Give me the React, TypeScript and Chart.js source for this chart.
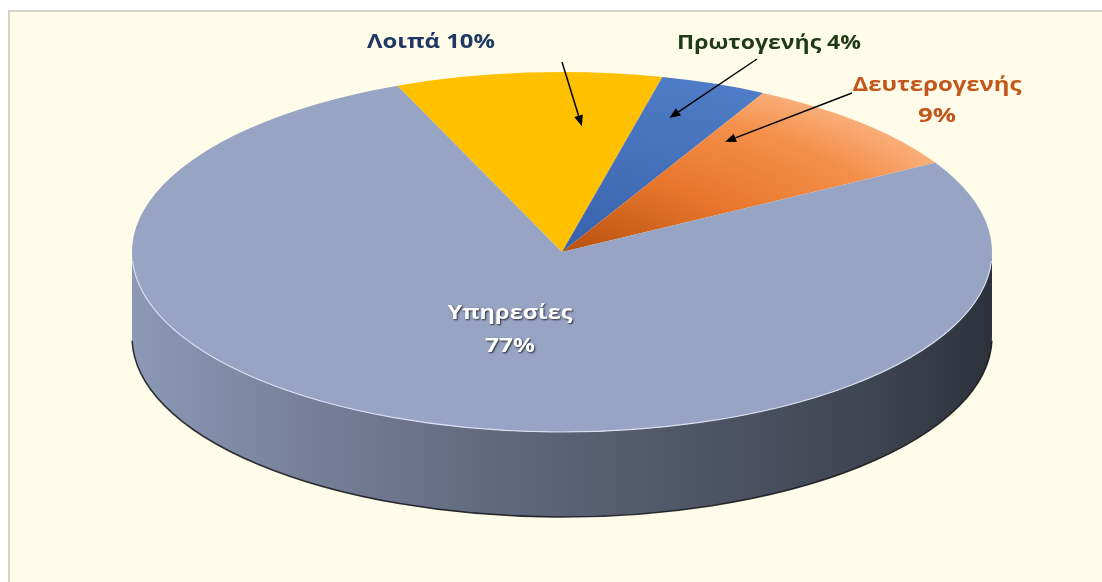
import React, { useEffect, useRef } from 'react';
import { Chart, registerables } from 'chart.js';

Chart.register(...registerables);

// ---- data ----
const categories = ['Λοιπά', 'Πρωτογενής', 'Δευτερογενής', 'Υπηρεσίες'];
const shares = [10, 4, 9, 77];
const sliceColors = ['#FFC000', '#4672BE', '#ED7D31', '#97A4C4'];
const labelColors = ['#1F3864', '#1F3A16', '#C3561A', '#FFFFFF'];

// ---- layout ----
const W = 1102;
const H = 582;
const PIE_CX = 562;
const PIE_CY = 252;
const RX = 430;
const RY = 180;
const DEPTH = 85;
const HALF = 200;
const ROTATION = -22.5;

type Arrow = { from: [number, number]; t: number; f: number };
type LabelSpec = {
  idx: number;
  lines: string[];
  cx: number;
  baselines: number[];
  widths: number[];
  size: number;
  shadow?: boolean;
  arrow?: Arrow;
};

const labelSpecs: LabelSpec[] = [
  { idx: 0, lines: [`${categories[0]} ${shares[0]}%`], cx: 431, baselines: [48], widths: [128], size: 19, arrow: { from: [562, 62], t: 0.73, f: 0.7 } },
  { idx: 1, lines: [`${categories[1]} ${shares[1]}%`], cx: 769, baselines: [49], widths: [184], size: 20, arrow: { from: [757, 59], t: 0.35, f: 0.785 } },
  { idx: 2, lines: [categories[2], `${shares[2]}%`], cx: 937, baselines: [91, 122], widths: [169, 38], size: 19, arrow: { from: [852, 93], t: 0.12, f: 0.72 } },
  { idx: 3, lines: [categories[3], `${shares[3]}%`], cx: 510, baselines: [319, 352], widths: [125, 50], size: 19, shadow: true },
];

function hexToRgb(hex: string): [number, number, number] {
  const h = hex.replace('#', '');
  return [parseInt(h.slice(0, 2), 16), parseInt(h.slice(2, 4), 16), parseInt(h.slice(4, 6), 16)];
}
function shade(hex: string, f: number): string {
  const [r, g, b] = hexToRgb(hex);
  return `rgb(${Math.round(r * f)},${Math.round(g * f)},${Math.round(b * f)})`;
}

const sideStops: [number, number][] = [
  [0, 0.93],
  [0.2, 0.78],
  [0.45, 0.62],
  [0.7, 0.5],
  [0.88, 0.4],
  [1, 0.3],
];

function sliceFill(c: any) {
  const i = c.dataIndex;
  const chart = c.chart;
  const area = chart.chartArea;
  if (i === undefined) return sliceColors[0];
  if (!area || i === 0 || i === 3) return sliceColors[i];
  const cx = (area.left + area.right) / 2;
  const cy = (area.top + area.bottom) / 2;
  const r = Math.min(area.right - area.left, area.bottom - area.top) / 2;
  const g = chart.ctx.createRadialGradient(cx, cy, 0, cx, cy, r);
  if (i === 2) {
    g.addColorStop(0, '#B8500E');
    g.addColorStop(0.45, '#E8772C');
    g.addColorStop(0.8, '#F48F4A');
    g.addColorStop(1, '#F9AE78');
  } else {
    g.addColorStop(0, '#3A62AC');
    g.addColorStop(1, '#4F7CC6');
  }
  return g;
}

const pie3d = {
  id: 'pie3d',
  beforeDatasetsDraw(chart: any) {
    const ctx = chart.ctx;
    const meta = chart.getDatasetMeta(0);
    if (!meta.data.length) return;
    const el0 = meta.data[0];
    const x = el0.x;
    const y = el0.y;
    const R = el0.outerRadius;
    const sx = RX / R;
    const sy = RY / R;
    const rx = R * sx;
    const ry = R * sy;
    // sides
    meta.data.forEach((el: any, i: number) => {
      for (let k = -1; k <= 1; k++) {
        const lo = Math.max(el.startAngle, k * 2 * Math.PI);
        const hi = Math.min(el.endAngle, k * 2 * Math.PI + Math.PI);
        if (hi <= lo) continue;
        ctx.save();
        ctx.beginPath();
        ctx.ellipse(x, y, rx, ry, 0, lo, hi);
        ctx.ellipse(x, y + DEPTH, rx, ry, 0, hi, lo, true);
        ctx.closePath();
        const g = ctx.createLinearGradient(x - rx, 0, x + rx, 0);
        sideStops.forEach(([p, f]) => g.addColorStop(p, shade(sliceColors[i], f)));
        ctx.fillStyle = g;
        ctx.fill();
        ctx.restore();
      }
    });
    // bottom outline
    ctx.save();
    ctx.beginPath();
    ctx.ellipse(x, y + DEPTH, rx, ry, 0, 0.02, Math.PI - 0.02);
    ctx.strokeStyle = 'rgba(20,20,25,0.85)';
    ctx.lineWidth = 1.5;
    ctx.stroke();
    ctx.restore();
    // transform for top face
    ctx.save();
    ctx.translate(x, y);
    ctx.scale(sx, sy);
    ctx.translate(-x, -y);
  },
  afterDatasetsDraw(chart: any) {
    const ctx = chart.ctx;
    const meta = chart.getDatasetMeta(0);
    if (!meta.data.length) return;
    ctx.restore();
    const el0 = meta.data[0];
    const x = el0.x;
    const y = el0.y;
    // rim highlight on the front edge
    ctx.save();
    ctx.beginPath();
    ctx.ellipse(x, y, RX, RY, 0, 0.05, Math.PI - 0.05);
    ctx.strokeStyle = 'rgba(228,234,250,0.85)';
    ctx.lineWidth = 1.2;
    ctx.stroke();
    ctx.restore();
  },
  afterDraw(chart: any) {
    const ctx = chart.ctx;
    const meta = chart.getDatasetMeta(0);
    if (!meta.data.length) return;
    labelSpecs.forEach((spec) => {
      const el = meta.data[spec.idx];
      // arrow
      if (spec.arrow && el) {
        const R = el.outerRadius;
        const a = el.startAngle + spec.arrow.t * (el.endAngle - el.startAngle);
        const tx = el.x + (RX / R) * R * spec.arrow.f * Math.cos(a);
        const ty = el.y + (RY / R) * R * spec.arrow.f * Math.sin(a);
        const [fx, fy] = spec.arrow.from;
        const ang = Math.atan2(ty - fy, tx - fx);
        const len = 11;
        const hw = 4.5;
        const bx = tx - len * Math.cos(ang);
        const by = ty - len * Math.sin(ang);
        ctx.save();
        ctx.strokeStyle = '#000';
        ctx.fillStyle = '#000';
        ctx.lineWidth = 1.5;
        ctx.beginPath();
        ctx.moveTo(fx, fy);
        ctx.lineTo(bx, by);
        ctx.stroke();
        ctx.beginPath();
        ctx.moveTo(tx, ty);
        ctx.lineTo(bx + hw * Math.sin(ang), by - hw * Math.cos(ang));
        ctx.lineTo(bx - hw * Math.sin(ang), by + hw * Math.cos(ang));
        ctx.closePath();
        ctx.fill();
        ctx.restore();
      }
      // text
      spec.lines.forEach((line, li) => {
        ctx.save();
        ctx.font = `bold ${spec.size}px "Open Sans", "Noto Sans", sans-serif`;
        const m = ctx.measureText(line).width;
        const s = spec.widths[li] / m;
        ctx.translate(spec.cx, spec.baselines[li]);
        ctx.scale(s, 1);
        ctx.textAlign = 'center';
        ctx.textBaseline = 'alphabetic';
        if (spec.shadow) {
          ctx.shadowColor = 'rgba(0,0,0,0.75)';
          ctx.shadowBlur = 2;
          ctx.shadowOffsetX = 1;
          ctx.shadowOffsetY = 1;
        }
        ctx.fillStyle = labelColors[spec.idx];
        ctx.fillText(line, 0, 0);
        ctx.restore();
      });
    });
  },
};

export default function App() {
  const ref = useRef<HTMLCanvasElement | null>(null);

  useEffect(() => {
    document.body.style.margin = '0';
    document.body.style.overflow = 'hidden';
    if (!ref.current) return;
    const chart = new Chart(ref.current, {
      type: 'pie',
      data: {
        labels: categories,
        datasets: [
          {
            data: shares,
            backgroundColor: sliceFill as any,
            borderWidth: 0,
            clip: false as any,
          },
        ],
      },
      options: {
        responsive: false,
        animation: false,
        rotation: ROTATION,
        layout: {
          padding: {
            left: PIE_CX - HALF,
            right: W - PIE_CX - HALF,
            top: PIE_CY - HALF,
            bottom: H - PIE_CY - HALF,
          },
        },
        plugins: {
          legend: { display: false },
          tooltip: { enabled: false },
        },
      },
      plugins: [pie3d],
    });
    return () => chart.destroy();
  }, []);

  return (
    <div style={{ position: 'relative', width: W, height: H, background: '#FFFFFF', overflow: 'hidden' }}>
      <div
        style={{
          position: 'absolute',
          left: 8,
          top: 10,
          right: 0,
          bottom: 0,
          background: '#FFFDE9',
          borderTop: '2px solid #D6D3C2',
          borderLeft: '2px solid #D6D3C2',
        }}
      />
      <canvas ref={ref} width={W} height={H} style={{ position: 'absolute', left: 0, top: 0, width: W, height: H }} />
    </div>
  );
}
